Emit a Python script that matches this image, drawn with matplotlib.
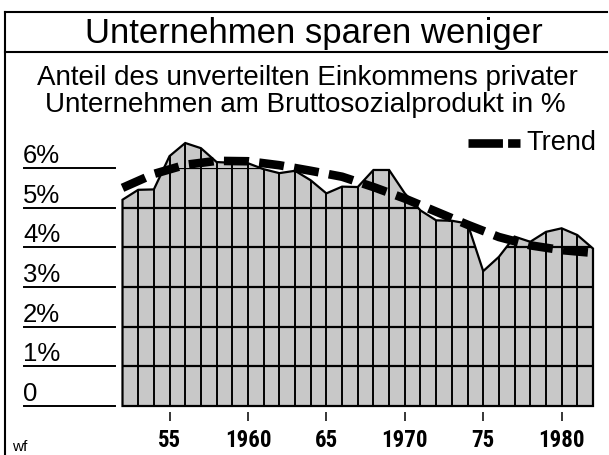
import matplotlib
matplotlib.use("Agg")
import matplotlib.pyplot as plt
import matplotlib.transforms as mtransforms
from matplotlib.lines import Line2D
from matplotlib.patches import Polygon
from matplotlib import font_manager

plt.rcParams['font.family'] = ['Liberation Sans', 'DejaVu Sans']

# ---- data ----
years = list(range(1952, 1983))
share = [5.2, 5.45, 5.46, 6.3, 6.63, 6.5, 6.15, 6.13, 6.12, 5.97, 5.87, 5.93,
         5.69, 5.36, 5.53, 5.52, 5.95, 5.95, 5.36, 4.93, 4.68, 4.67, 4.6, 3.4,
         3.76, 4.27, 4.14, 4.39, 4.48, 4.31, 3.97]
trend_years = [1952, 1954, 1956, 1958, 1960, 1962, 1964, 1966, 1968, 1970,
               1972, 1974, 1976, 1978, 1980, 1982]
trend_vals = [5.5, 5.85, 6.08, 6.18, 6.17, 6.07, 5.93, 5.78, 5.52, 5.23,
              4.9, 4.57, 4.26, 4.05, 3.93, 3.86]
ytick_vals = [0, 1, 2, 3, 4, 5, 6]
ytick_labels = ['0', '1%', '2%', '3%', '4%', '5%', '6%']
xtick_vals = [1955, 1960, 1965, 1970, 1975, 1980]
xtick_labels = ['55', '1960', '65', '1970', '75', '1980']

title = 'Unternehmen sparen weniger'
subtitle1 = 'Anteil des unverteilten Einkommens privater'
subtitle2 = 'Unternehmen am Bruttosozialprodukt in %'

# pick a condensed bold font for the year labels
names = {f.name for f in font_manager.fontManager.ttflist}
cond_family = None
cond_stretch = 'normal'
for cand in ['Liberation Sans Narrow', 'Roboto Condensed', 'Open Sans Condensed',
             'DejaVu Sans Condensed']:
    if cand in names:
        cond_family = cand
        break
if cond_family is None:
    for f in font_manager.fontManager.ttflist:
        if f.name in ('DejaVu Sans', 'Roboto', 'Open Sans') and str(f.stretch) in ('condensed', 'semi-condensed', '87.5', '75', 'semi-expanded'):
            if str(f.stretch) in ('condensed', 'semi-condensed'):
                cond_family = f.name
                cond_stretch = f.stretch
                break
if cond_family is None:
    cond_family = 'DejaVu Sans'
    cond_stretch = 'condensed'

W, H = 609, 455
fig = plt.figure(figsize=(W / 100, H / 100), dpi=100)

def fx(px):
    return px / W

def fy(py):
    return 1 - py / H

ax = fig.add_axes([fx(122.5), fy(406), fx(593) - fx(122.5), fy(168) - fy(406)])
ax.set_xlim(years[0], years[-1])
ax.set_ylim(0, 6)
for s in ax.spines.values():
    s.set_visible(False)

gray = '#c8c8c8'
verts = [(years[0], 0)] + list(zip(years, share)) + [(years[-1], 0)]
poly = Polygon(verts, closed=True, facecolor=gray, edgecolor='black',
               linewidth=1.6, zorder=2, clip_on=False)
ax.add_patch(poly)

ax.vlines(years[1:-1], 0, share[1:-1], colors='black', linewidth=1.4, zorder=3,
          clip_on=False)
for v in ytick_vals[1:]:
    ln, = ax.plot([years[0], years[-1]], [v, v], color='black', linewidth=1.6,
                  zorder=3, clip_on=True)
    ln.set_clip_path(poly)

ax.plot(trend_years, trend_vals, color='black', linewidth=6.2,
        dashes=(2.9, 1.2), solid_capstyle='butt', dash_capstyle='butt',
        zorder=5, clip_on=False)

blend = mtransforms.blended_transform_factory(fig.transFigure, ax.transData)
off = mtransforms.offset_copy(blend, fig=fig, x=0, y=5, units='dots')
for v, lab in zip(ytick_vals, ytick_labels):
    ax.add_line(Line2D([fx(24), fx(115)], [v, v], transform=blend,
                       color='black', linewidth=1.4, clip_on=False))
    ax.text(fx(23), v, lab, transform=off, fontsize=18.5, ha='left',
            va='baseline', clip_on=False)

ax.spines['bottom'].set_position(('outward', 4))
ax.set_xticks(xtick_vals)
ax.set_xticklabels(xtick_labels)
ax.set_yticks([])
ax.tick_params(axis='x', length=6.5, width=1.1, pad=6, direction='out')
for t in ax.get_xticklabels():
    t.set_fontfamily([cond_family, 'DejaVu Sans'])
    t.set_fontstretch(cond_stretch)
    t.set_fontweight('bold')
    t.set_fontsize(16.5)

leg_y = 143
fig.add_artist(Line2D([fx(468), fx(520)], [fy(leg_y), fy(leg_y)],
                      color='black', linewidth=6.2, dashes=(4.0, 0.6),
                      solid_capstyle='butt', dash_capstyle='butt'))
fig.text(fx(526), fy(leg_y), 'Trend', fontsize=19.5, ha='left', va='center')

for yy in (12, 52):
    fig.add_artist(Line2D([fx(5), fx(607)], [fy(yy), fy(yy)], color='black',
                          linewidth=1.5))
fig.add_artist(Line2D([fx(5), fx(5)], [fy(12), fy(455)], color='black',
                      linewidth=1.5))

fig.text(fx(314), fy(33), title, fontsize=25, ha='center', va='center')
fig.text(fx(307), fy(78), subtitle1, fontsize=20, ha='center', va='center')
fig.text(fx(305), fy(105), subtitle2, fontsize=20, ha='center', va='center')
fig.text(fx(12), fy(447), 'wf', fontsize=11, ha='left', va='center')

fig.savefig('out.png', dpi=100)
